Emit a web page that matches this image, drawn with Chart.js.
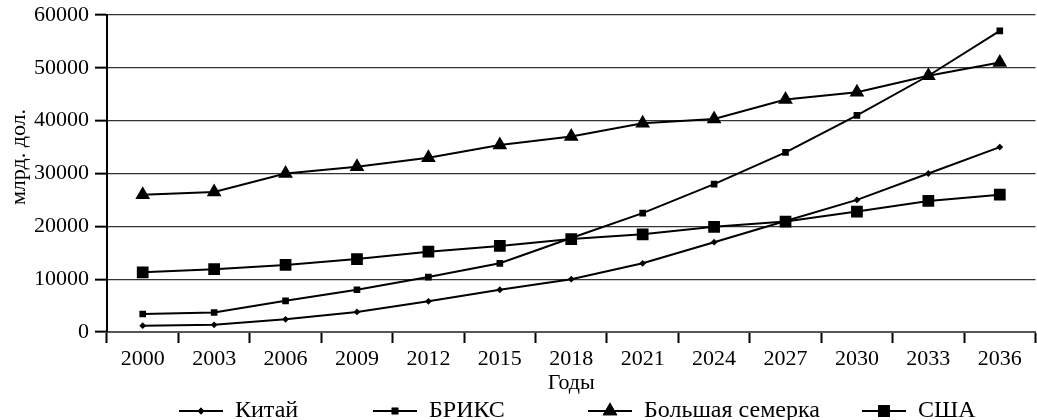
<!DOCTYPE html>
<html>
<head>
<meta charset="utf-8">
<script src="https://cdn.jsdelivr.net/npm/chart.js"></script>
<style>
    html, body { margin: 0; padding: 0; background: #fff; overflow: hidden; }
    #wrap { width: 1044px; height: 420px; }
</style>
</head>
<body>
<div id="wrap"><canvas id="gdpChart" width="1044" height="420"></canvas></div>
<script>
const years = ["2000", "2003", "2006", "2009", "2012", "2015", "2018", "2021", "2024", "2027", "2030", "2033", "2036"];
const china = [1200, 1350, 2400, 3800, 5800, 8000, 10000, 13000, 17000, 21000, 25000, 30000, 35000];
const brics = [3400, 3700, 5900, 8000, 10400, 13000, 17800, 22500, 28000, 34000, 41000, 48500, 57000];
const g7 = [26000, 26500, 30000, 31300, 33000, 35400, 37000, 39500, 40300, 44000, 45400, 48500, 51000];
const usa = [11300, 11900, 12700, 13800, 15200, 16300, 17600, 18500, 19900, 20900, 22800, 24800, 26000];

const yTicks = [0, 10000, 20000, 30000, 40000, 50000, 60000];
const yTitle = "млрд. дол.";

const serif = "'Liberation Serif', 'Times New Roman', serif";

// legend items: where each one starts along the bottom row
const legendItems = [
    { label: "Китай", style: "rectRot", radius: 3.4, x: 179 },
    { label: "БРИКС", style: "rect", radius: 4.7, x: 373 },
    { label: "Большая семерка", style: "triangle", radius: 8.5, x: 588 },
    { label: "США", style: "rect", radius: 8.3, x: 862 },
];

function series(label, data, style, radius) {
    return {
        label: label,
        data: data,
        borderColor: "#000",
        backgroundColor: "#000",
        borderWidth: 2,
        pointStyle: style,
        pointRadius: radius,
        pointHoverRadius: radius,
        pointBorderWidth: 0,
        tension: 0,
    };
}

const extraText = {
    id: "extraText",
    afterDraw(chart) {
        const ctx = chart.ctx;
        const y = 411;
        ctx.save();
        ctx.font = "24px " + serif;
        ctx.fillStyle = "#000";
        ctx.textBaseline = "middle";
        legendItems.forEach((item) => {
            ctx.strokeStyle = "#000";
            ctx.lineWidth = 2;
            ctx.beginPath();
            ctx.moveTo(item.x, y);
            ctx.lineTo(item.x + 44, y);
            ctx.stroke();
            Chart.helpers.drawPoint(ctx, {
                pointStyle: item.style,
                radius: item.radius,
                rotation: 0,
                borderWidth: 0,
            }, item.x + 22, y);
            ctx.fillStyle = "#000";
            ctx.fill();
            ctx.fillText(item.label, item.x + 56, y);
        });

        // y axis title sits a bit above the middle of the axis
        ctx.font = "22px " + serif;
        ctx.textAlign = "center";
        ctx.translate(19, 157);
        ctx.rotate(-Math.PI / 2);
        ctx.fillText(yTitle, 0, 0);
        ctx.restore();
    },
};

const canvas = document.getElementById("gdpChart");

new Chart(canvas, {
    type: "line",
    data: {
        labels: years,
        datasets: [
            series("Китай", china, "rectRot", 3.4),
            series("БРИКС", brics, "rect", 4.7),
            series("Большая семерка", g7, "triangle", 8.5),
            series("США", usa, "rect", 8.3),
        ],
    },
    options: {
        responsive: false,
        animation: false,
        layout: {
            padding: { top: 15, right: 3, bottom: 24, left: 0 },
        },
        plugins: {
            legend: { display: false },
            tooltip: { enabled: false },
        },
        scales: {
            x: {
                offset: true,
                grid: {
                    offset: true,
                    drawOnChartArea: false,
                    drawTicks: true,
                    tickLength: 11,
                    tickColor: "#000",
                    tickWidth: 2,
                },
                border: { color: "#555", width: 2 },
                ticks: {
                    color: "#000",
                    padding: 3,
                    maxRotation: 0,
                    autoSkip: false,
                    font: { family: serif, size: 22 },
                },
                title: {
                    display: true,
                    text: "Годы",
                    color: "#000",
                    padding: 0,
                    font: { family: serif, size: 22 },
                },
                afterFit(scale) {
                    scale.height = 64;
                },
            },
            y: {
                min: 0,
                max: 60000,
                afterBuildTicks(scale) {
                    scale.ticks = yTicks.map((v) => ({ value: v }));
                },
                grid: {
                    color: "#333",
                    lineWidth: 1.3,
                    drawTicks: true,
                    tickLength: 12,
                    tickColor: "#000",
                    tickWidth: 2,
                },
                border: { color: "#000", width: 2 },
                ticks: {
                    color: "#000",
                    padding: 6,
                    font: { family: serif, size: 22, lineHeight: 1 },
                    callback: (value) => String(value),
                },
                afterFit(scale) {
                    scale.width = 107;
                    scale.paddingTop = 0;
                },
            },
        },
    },
    plugins: [extraText],
});
</script>
</body>
</html>
